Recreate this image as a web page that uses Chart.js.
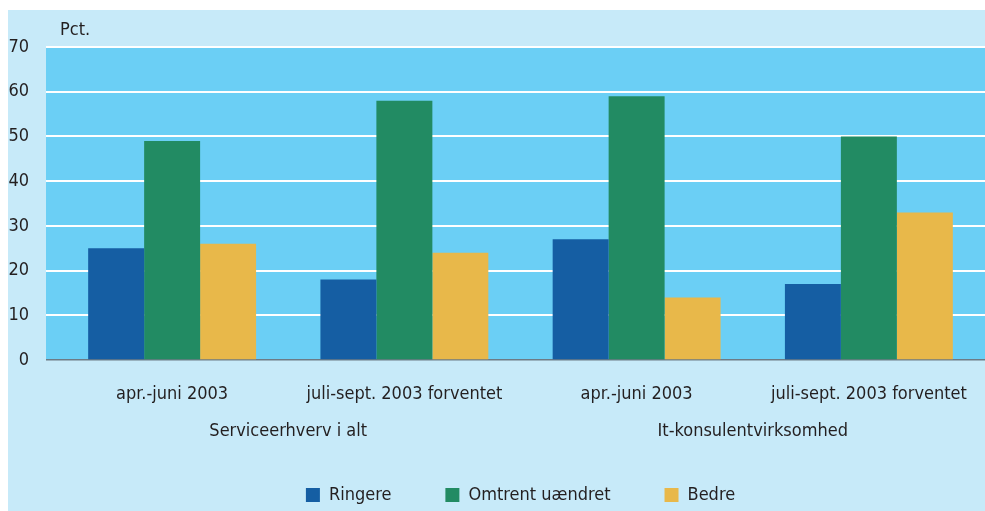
<!DOCTYPE html>
<html>
<head>
<meta charset="utf-8">
<script src="https://cdn.jsdelivr.net/npm/chart.js@4/dist/chart.umd.min.js"></script>
<style>
  html, body { margin: 0; padding: 0; background: #fff; }
  #wrap { position: absolute; left: 8px; top: 10px; width: 977px; height: 501px; background: #c7eaf9; }
</style>
</head>
<body>
<div id="wrap"><canvas id="chart"></canvas></div>
<script>
const periods = ['apr.-juni 2003', 'juli-sept. 2003 forventet', 'apr.-juni 2003', 'juli-sept. 2003 forventet'];
const sectors = ['Serviceerhverv i alt', 'It-konsulentvirksomhed'];
const ringere = [25, 18, 27, 17];
const uaendret = [49, 58, 59, 50];
const bedre = [26, 24, 14, 33];
const yMax = 70;
const yStep = 10;

const FONT = "'Liberation Sans Narrow', 'DejaVu Sans Condensed', sans-serif";
Chart.defaults.font.family = FONT;
Chart.defaults.font.size = 18;
Chart.defaults.color = '#231f20';

// light blue plot background + the "Pct." unit label
const plotBg = {
    id: 'plotBg',
    beforeDraw(chart) {
        const { ctx, chartArea, scales } = chart;
        const top = scales.y.getPixelForValue(yMax);
        ctx.save();
        ctx.fillStyle = '#6bcff5';
        ctx.fillRect(chartArea.left - 10, top, chartArea.right - chartArea.left + 10, chartArea.bottom - top);
        ctx.fillStyle = '#231f20';
        ctx.font = '18px ' + FONT;
        ctx.textBaseline = 'middle';
        ctx.fillText('Pct.', chartArea.left + 4, top - 17);
        ctx.restore();
    }
};

const lineColor = (c) => c.tick && c.tick.value === 0 ? '#6d7b85' : '#ffffff';

new Chart(document.getElementById('chart'), {
    type: 'bar',
    data: {
        labels: periods,
        datasets: [
            { label: 'Ringere', data: ringere, backgroundColor: '#155ea3' },
            { label: 'Omtrent uændret', data: uaendret, backgroundColor: '#228b63' },
            { label: 'Bedre', data: bedre, backgroundColor: '#e8b84a' }
        ]
    },
    options: {
        responsive: true,
        maintainAspectRatio: false,
        animation: false,
        categoryPercentage: 0.723,
        barPercentage: 1.0,
        layout: { padding: { top: 37, right: 0, bottom: -3, left: 0 } },
        plugins: {
            tooltip: { enabled: false },
            legend: {
                position: 'bottom',
                fullSize: false,
                labels: { boxWidth: 14, boxHeight: 14, padding: 54, font: { size: 18 } }
            }
        },
        scales: {
            x: {
                position: 'bottom',
                weight: 1,
                grid: { display: false, drawTicks: false },
                border: { display: false },
                // mirror + negative padding: label sits below the axis without clipping
                ticks: { mirror: true, padding: -45, maxRotation: 0, autoSkip: false },
                afterFit: (s) => { s.height = 55; }
            },
            x2: {
                type: 'category',
                labels: sectors,
                position: 'bottom',
                weight: 2,
                offset: true,
                grid: { display: false, drawTicks: false },
                border: { display: false },
                ticks: { mirror: true, padding: -27, maxRotation: 0, autoSkip: false },
                afterFit: (s) => { s.height = 17; }
            },
            y: {
                min: 0,
                max: yMax,
                ticks: { stepSize: yStep, padding: 17 },
                border: { display: false },
                grid: {
                    color: lineColor,
                    tickColor: lineColor,
                    lineWidth: (c) => c.tick && c.tick.value === 0 ? 1.5 : 2,
                    tickLength: 10,
                    drawTicks: true
                },
                afterFit: (s) => { s.width = 48; }
            }
        }
    },
    plugins: [plotBg]
});
</script>
</body>
</html>
